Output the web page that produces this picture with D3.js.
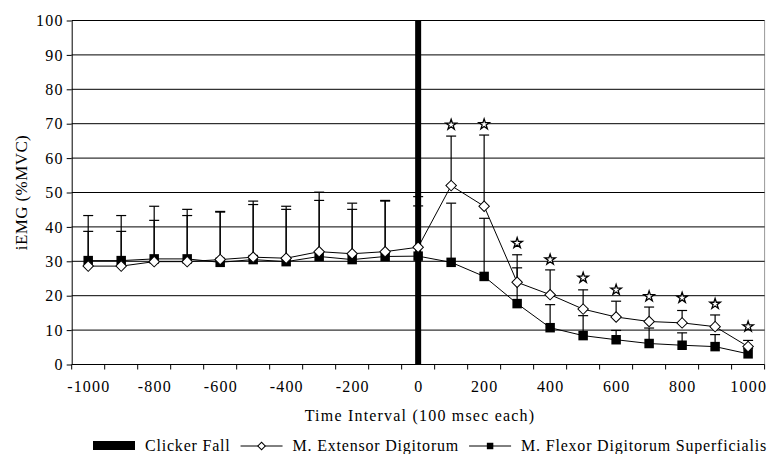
<!DOCTYPE html>
<html>
<head>
<meta charset="utf-8">
<script src="https://cdnjs.cloudflare.com/ajax/libs/d3/7.8.5/d3.min.js"></script>
<style>
  body { margin: 0; background: #fff; }
  svg text { font-family: "Liberation Serif", "Times New Roman", serif; fill: #000; }
</style>
</head>
<body>
<script>
const categories = ["-1000", "-900", "-800", "-700", "-600", "-500", "-400", "-300", "-200", "-100", "0",
  "100", "200", "300", "400", "500", "600", "700", "800", "900", "1000"]
const tickLabels = ["-1000", "-800", "-600", "-400", "-200", "0", "200", "400", "600", "800", "1000"]
const extensor = [28.6, 28.6, 29.9, 29.9, 30.5, 31.2, 30.9, 32.8, 32.2, 32.8, 34.1,
  52.0, 46.0, 23.9, 20.3, 16.1, 13.8, 12.5, 12.1, 11.0, 5.2]
const extensorSD = [14.7, 14.7, 16.1, 15.2, 14.0, 16.3, 15.1, 17.3, 14.7, 14.9, 14.7,
  14.4, 20.7, 8.0, 7.2, 5.6, 4.6, 4.2, 3.6, 3.4, 1.8]
const flexor = [30.2, 30.2, 30.7, 30.7, 29.7, 30.5, 29.9, 31.4, 30.5, 31.4, 31.5,
  29.7, 25.6, 17.7, 10.7, 8.4, 7.2, 6.1, 5.6, 5.2, 3.1]
const flexorSD = [8.5, 8.5, 11.2, 12.6, 14.6, 16.0, 15.2, 16.3, 14.6, 16.1, 14.6,
  17.2, 16.9, 10.4, 6.7, 5.8, 2.7, 4.5, 3.6, 3.5, 1.5]
const clickerCat = "0"
const clickerValue = 100
const starCats = ["100", "200", "300", "400", "500", "600", "700", "800", "900", "1000"]
const starValues = [69.7, 69.8, 35.3, 30.5, 25.2, 21.7, 19.8, 19.4, 17.6, 11.0]
const yTicks = [0, 10, 20, 30, 40, 50, 60, 70, 80, 90, 100]
const legendNames = ["Clicker Fall", "M. Extensor Digitorum", "M. Flexor Digitorum Superficialis"]

const w = 768
const h = 454
const plotLeft = 71.7, plotRight = 764.6, plotTop = 20.5, plotBottom = 364.5

const svg = d3.select("body").append("svg").attr("width", w).attr("height", h)
  .attr("font-family", "Liberation Serif")

const x = d3.scaleBand().domain(categories).range([plotLeft, plotRight])
const y = d3.scaleLinear().domain([0, 100]).range([plotBottom, plotTop])
const cx = (c) => x(c) + x.bandwidth() / 2

// gray frame on the right
svg.append("line")
  .attr("x1", plotRight).attr("x2", plotRight).attr("y1", plotTop).attr("y2", plotBottom)
  .attr("stroke", "#999").attr("stroke-width", 1)

// gridlines
svg.append("g").selectAll("line")
  .data(yTicks.filter(d => d > 0))
  .enter().append("line")
  .attr("x1", plotLeft).attr("x2", plotRight)
  .attr("y1", d => y(d)).attr("y2", d => y(d))
  .attr("stroke", "#000").attr("stroke-width", 1)

// y axis
const yAxis = d3.axisLeft(y).tickValues(yTicks).tickSize(5).tickSizeOuter(0)
const gy = svg.append("g").attr("transform", "translate(" + plotLeft + ",0)").call(yAxis)
gy.attr("font-family", null)
gy.select(".domain").attr("stroke", "#000")
gy.selectAll("text").attr("x", -8).attr("font-size", "16px").attr("letter-spacing", "1.2px")

// x axis with ticks between categories
svg.append("line")
  .attr("x1", plotLeft).attr("x2", plotRight).attr("y1", plotBottom).attr("y2", plotBottom)
  .attr("stroke", "#000")
svg.append("g").selectAll("line")
  .data(categories.concat(["end"]))
  .enter().append("line")
  .attr("x1", (d, i) => plotLeft + i * x.bandwidth())
  .attr("x2", (d, i) => plotLeft + i * x.bandwidth())
  .attr("y1", plotBottom).attr("y2", plotBottom + 5)
  .attr("stroke", "#000")
svg.append("g").selectAll("text")
  .data(tickLabels)
  .enter().append("text")
  .attr("x", d => cx(d) + 0.6)
  .attr("y", 392)
  .attr("text-anchor", "middle")
  .attr("font-size", "16px")
  .attr("letter-spacing", "1.2px")
  .text(d => d)

// axis titles
svg.append("text")
  .attr("x", 420).attr("y", 421)
  .attr("text-anchor", "middle").attr("font-size", "16px").attr("letter-spacing", "1.2px")
  .text("Time Interval (100 msec each)")
svg.append("text")
  .attr("transform", "translate(27," + (plotTop + plotBottom) / 2 + ") rotate(-90)")
  .attr("text-anchor", "middle").attr("font-size", "17px").attr("letter-spacing", "0.4px")
  .text("iEMG (%MVC)")

// clicker fall bar
svg.append("rect")
  .attr("x", cx(clickerCat) - 3).attr("width", 6)
  .attr("y", y(clickerValue)).attr("height", y(0) - y(clickerValue))
  .attr("fill", "#000")

// error bars
const errors = (vals, sds) => categories.map((c, i) => ({ c: c, v: vals[i], top: vals[i] + sds[i] }))
const drawErrors = (data) => {
  const g = svg.append("g").attr("stroke", "#000").attr("stroke-width", 1.2)
  g.selectAll(".stem").data(data).enter().append("line")
    .attr("x1", d => cx(d.c)).attr("x2", d => cx(d.c))
    .attr("y1", d => y(d.v)).attr("y2", d => y(d.top))
  g.selectAll(".cap").data(data).enter().append("line")
    .attr("x1", d => cx(d.c) - 5).attr("x2", d => cx(d.c) + 5)
    .attr("y1", d => y(d.top)).attr("y2", d => y(d.top))
}
drawErrors(errors(flexor, flexorSD))
drawErrors(errors(extensor, extensorSD))

// series lines
const line = d3.line().x((d, i) => cx(categories[i])).y(d => y(d))
svg.append("path").attr("d", line(flexor)).attr("fill", "none").attr("stroke", "#000").attr("stroke-width", 1)
svg.append("path").attr("d", line(extensor)).attr("fill", "none").attr("stroke", "#000").attr("stroke-width", 1)

// markers
const square = d3.symbol().type(d3.symbolSquare).size(90)
const diamond = d3.symbol().type(d3.symbolSquare).size(55)
svg.append("g").selectAll("path")
  .data(flexor).enter().append("path")
  .attr("d", square)
  .attr("transform", (d, i) => "translate(" + cx(categories[i]) + "," + y(d) + ")")
  .attr("fill", "#000")
svg.append("g").selectAll("path")
  .data(extensor).enter().append("path")
  .attr("d", diamond)
  .attr("transform", (d, i) => "translate(" + cx(categories[i]) + "," + y(d) + ") rotate(45)")
  .attr("fill", "#fff").attr("stroke", "#000").attr("stroke-width", 1)

// significance stars
const star = d3.symbol().type(d3.symbolStar).size(34)
svg.append("g").selectAll("path")
  .data(starValues).enter().append("path")
  .attr("d", star)
  .attr("transform", (d, i) => "translate(" + cx(starCats[i]) + "," + y(d) + ")")
  .attr("fill", "#fff").attr("stroke", "#000").attr("stroke-width", 1.3)

// legend, laid out left to right from measured text widths
const ly = 451
const keyW = 42
const legend = svg.append("g")
const texts = legendNames.map(n => legend.append("text").attr("y", ly)
  .attr("font-size", "16px").attr("letter-spacing", "0.8px").text(n))
const widths = texts.map(t => t.node().getComputedTextLength())
const lx0 = 93, lx1 = 767
const gap = (lx1 - lx0 - 3 * keyW - d3.sum(widths)) / 5
let lx = lx0
legendNames.forEach((n, i) => {
  if (i === 0) {
    legend.append("rect").attr("x", lx).attr("y", ly - 10).attr("width", keyW).attr("height", 9).attr("fill", "#000")
  } else {
    legend.append("line").attr("x1", lx).attr("x2", lx + keyW).attr("y1", ly - 5).attr("y2", ly - 5).attr("stroke", "#000")
    const mk = legend.append("path").attr("transform", "translate(" + (lx + keyW / 2) + "," + (ly - 5) + ")" + (i === 1 ? " rotate(45)" : ""))
    if (i === 1) mk.attr("d", d3.symbol().type(d3.symbolSquare).size(28)).attr("fill", "#fff").attr("stroke", "#000")
    else mk.attr("d", d3.symbol().type(d3.symbolSquare).size(42)).attr("fill", "#000")
  }
  lx += keyW + gap
  texts[i].attr("x", lx)
  lx += widths[i] + gap
})
</script>
</body>
</html>
